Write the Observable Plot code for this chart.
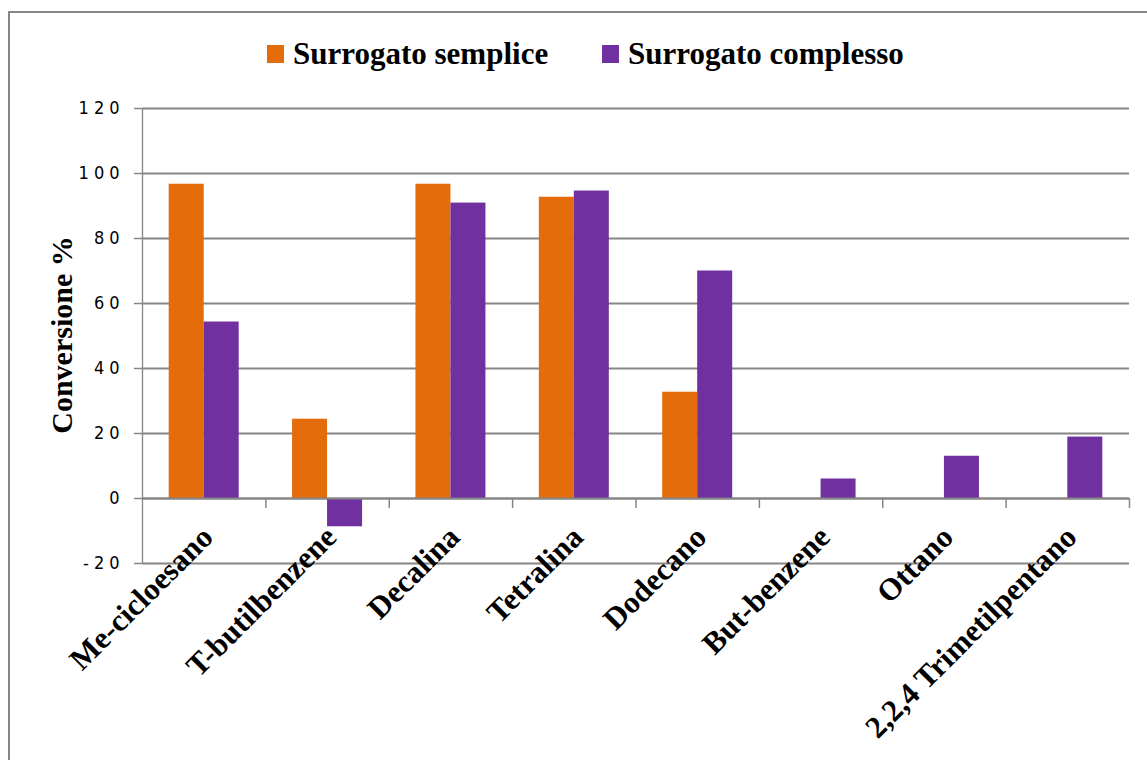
<!DOCTYPE html>
<html>
<head>
<meta charset="utf-8">
<script src="https://cdn.jsdelivr.net/npm/d3@7"></script>
<script src="https://cdn.jsdelivr.net/npm/@observablehq/plot@0.6"></script>
<style>
  html, body { margin: 0; padding: 0; background: #fff; }
  #wrap { position: relative; width: 1147px; height: 760px; overflow: hidden; background: #fff; }
  #frame { position: absolute; left: 8px; top: 11px; width: 1200px; height: 800px;
           border-left: 2px solid #868686; border-top: 2px solid #868686; }
  #chart { position: absolute; left: 0; top: 0; }
  .leg { position: absolute; font-family: "Liberation Serif", "Times New Roman", serif; font-weight: bold;
         font-size: 31px; line-height: 31px; color: #000; white-space: nowrap; }
  .sw { position: absolute; width: 17px; height: 18px; }
  #ytitle { position: absolute; left: 62px; top: 335px; transform: translate(-50%, -50%) rotate(-90deg);
            font-family: "Liberation Serif", "Times New Roman", serif; font-weight: bold; font-size: 30px;
            line-height: 30px; white-space: nowrap; color: #000; }
  #chart g[aria-label="y-axis tick label"] text { letter-spacing: 5px; }
</style>
</head>
<body>
<div id="wrap">
  <div id="frame"></div>
  <div id="chart"></div>
  <div id="legend"></div>
  <div id="ytitle">Conversione %</div>
</div>
<script>
// ---- data ----
const categories = ["Me-cicloesano", "T-butilbenzene", "Decalina", "Tetralina", "Dodecano", "But-benzene", "Ottano", "2,2,4 Trimetilpentano"];
const seriesNames = ["Surrogato semplice", "Surrogato complesso"];
const semplice = [96.7, 24.4, 96.7, 92.7, 32.7, null, null, null];
const complesso = [54.3, -8.7, 90.9, 94.6, 70, 6, 13, 18.9];
const yTicks = [-20, 0, 20, 40, 60, 80, 100, 120];
const colors = ["#E46C0A", "#7030A0"];

// ---- layout ----
const W = 1147, H = 760;
const mL = 142, mR = 18, mT = 108, mB = 197;
const bw = (W - mL - mR) / categories.length;   // band width
const barW = 35;
const outer = bw / 2 - barW;                      // gap from band edge to bar pair
const pxPerUnit = (H - mT - mB) / (d3.max(yTicks) - d3.min(yTicks));
const grey = "#868686";

const rows = (vals) => categories.map((c, i) => ({cat: c, v: vals[i]})).filter(d => d.v != null);
const dSemplice = rows(semplice);
const dComplesso = rows(complesso);

const plot = Plot.plot({
  width: W,
  height: H,
  marginLeft: mL,
  marginRight: mR,
  marginTop: mT,
  marginBottom: mB,
  style: {fontFamily: "'Liberation Sans Narrow', 'DejaVu Sans Condensed', 'Arial Narrow', sans-serif", fontSize: "18px", color: "#000", background: "transparent"},
  x: {domain: categories, padding: 0, round: false, axis: null},
  y: {domain: [d3.min(yTicks), d3.max(yTicks)], axis: null},
  marks: [
    Plot.gridY(yTicks, {stroke: grey, strokeOpacity: 1, strokeWidth: 1.8}),
    Plot.axisY(yTicks, {tickSize: 8, tickPadding: 10, stroke: grey, strokeOpacity: 1, strokeWidth: 1.5, label: null,
                        tickFormat: d => String(d), fontSize: 18, fill: "#000"}),
    // vertical axis line
    Plot.ruleX([categories[0]], {x: d => d, dx: -bw / 2, y1: d3.min(yTicks), y2: d3.max(yTicks), stroke: grey, strokeWidth: 1.3}),
    Plot.barY(dSemplice, {x: "cat", y1: 0, y2: "v", fill: colors[0], insetLeft: outer, insetRight: outer + barW}),
    Plot.barY(dComplesso, {x: "cat", y1: 0, y2: "v", fill: colors[1], insetLeft: outer + barW, insetRight: outer}),
    // zero line on top of bars
    Plot.ruleY([0], {stroke: grey, strokeWidth: 2}),
    // category tick marks at band edges
    Plot.ruleX(categories, {x: d => d, dx: bw / 2, y1: 0, y2: -10 / pxPerUnit, stroke: grey, strokeWidth: 1.5}),
    // category labels
    Plot.text(categories, {x: d => d, y: 0, text: d => d, rotate: -45, textAnchor: "end", lineAnchor: "top",
                           dx: -5, dy: 25, fontSize: 31, fontWeight: "bold",
                           fontFamily: "'Liberation Serif', 'Times New Roman', serif", fill: "#000"})
  ]
});
document.getElementById("chart").appendChild(plot);

// ---- legend ----
const legend = document.getElementById("legend");
const legPos = [{sw: 267, tx: 293}, {sw: 602, tx: 628}];
seriesNames.forEach((name, i) => {
  const s = document.createElement("div");
  s.className = "sw";
  s.style.left = legPos[i].sw + "px";
  s.style.top = "45px";
  s.style.background = colors[i];
  legend.appendChild(s);
  const t = document.createElement("div");
  t.className = "leg";
  t.style.left = legPos[i].tx + "px";
  t.style.top = "38px";
  t.textContent = name;
  legend.appendChild(t);
});
</script>
</body>
</html>
